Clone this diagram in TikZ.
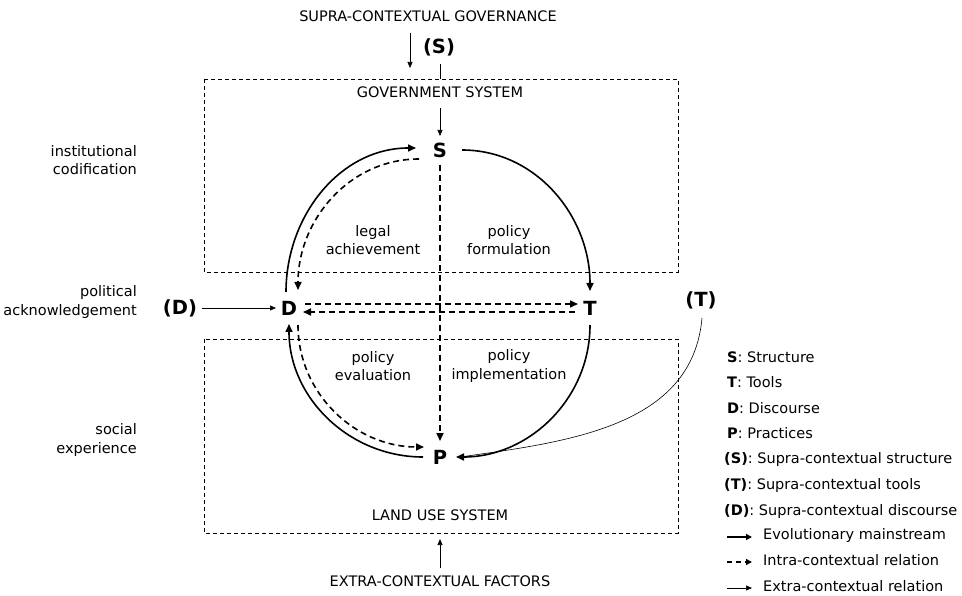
\documentclass[tikz,border=0pt]{standalone}
\usepackage{fontspec}
\setmainfont{DejaVu Sans}
\usetikzlibrary{arrows.meta,calc}
\begin{document}
\begin{tikzpicture}[x=1pt,y=-1pt,
 txt/.style={font=\fontsize{14.5}{18.5}\selectfont, align=center, inner sep=0pt},
 big/.style={font=\fontsize{19.5}{22}\selectfont\bfseries, inner sep=0pt},
 leg/.style={font=\fontsize{14.5}{17}\selectfont, anchor=west, inner sep=0pt},
 boxline/.style={draw, line width=0.9pt, dash pattern=on 4pt off 3pt},
 mainarr/.style={line width=1.6pt, -{Triangle[length=8pt,width=7pt]}},
 dsharr/.style={line width=1.6pt, dash pattern=on 6pt off 4pt, -{Triangle[length=8pt,width=7pt]}},
 thinarr/.style={line width=0.6pt, -{Triangle[length=6pt,width=5pt]}}]
\useasboundingbox (0,0) rectangle (962,596);
% boxes
\draw[boxline] (204,79) rectangle (678,272);
\draw[boxline] (204,339) rectangle (678,533);
% titles
\node[txt] (gov) at (428,16) {SUPRA-CONTEXTUAL GOVERNANCE};
\node[big] (Ssup) at (439,47) {(S)};
\node[txt] (govsys) at (440,92) {GOVERNMENT SYSTEM};
\node[txt] (lus) at (440,515) {LAND USE SYSTEM};
\node[txt] (extra) at (440,581) {EXTRA-CONTEXTUAL FACTORS};
% core nodes
\node[big] (S) at (440,150) {S};
\node[big] (D) at (289,308) {D};
\node[big] (T) at (590,308) {T};
\node[big] (P) at (440,457) {P};
\node[big] (Dsup) at (180,308) {(D)};
\node[big] (Tsup) at (701,300) {(T)};
% left labels
\node[txt, align=right, anchor=east] (l1) at (137,160) {institutional\\codification};
\node[txt, align=right, anchor=east] (l2) at (137,302) {political\\acknowledgement};
\node[txt, align=right, anchor=east] (l3) at (137,440) {social\\experience};
% inner labels
\node[txt] (q1) at (373,240) {legal\\achievement};
\node[txt] (q2) at (509,240) {policy\\formulation};
\node[txt] (q3) at (373,366) {policy\\evaluation};
\node[txt] (q4) at (509,366) {policy\\implementation};
% small arrows top/bottom
\coordinate (gA) at (410,33);
\coordinate (gB) at (410,68);
\draw[thinarr] (gA) -- (gB);
\coordinate (stop) at (440,79);
\draw[line width=0.6pt] ($(Ssup)+(1,17)$) -- (stop);
\coordinate (gs1) at (440,108);
\draw[thinarr] (gs1) -- ($(S)+(0,-14)$);
\coordinate (eA) at (440,568);
\coordinate (eB) at (440,539);
\draw[thinarr] (eA) -- (eB);
% main solid arcs
\draw[mainarr] ($(D)+(-3,-16)$) to[out=90,in=180] ($(S)+(-24,-2)$);
\draw[mainarr] ($(S)+(22,0)$) to[out=0,in=90] ($(T)+(0,-17)$);
\draw[mainarr] ($(T)+(0,17)$) to[out=-90,in=0] ($(P)+(16,0)$);
\draw[mainarr] ($(P)+(-17,0)$) to[out=180,in=-90] ($(D)+(0,16)$);
% dashed
\draw[dsharr] ($(S)+(-21,9)$) to[out=180,in=90] ($(D)+(9,-18)$);
\draw[dsharr] ($(D)+(9,17)$) to[out=-90,in=180] ($(P)+(-16,-10)$);
\draw[dsharr] ($(S)+(0,15)$) -- ($(P)+(0,-16)$);
\draw[dsharr] ($(D)+(16,-4)$) -- ($(T)+(-12,-4)$);
\draw[dsharr] ($(T)+(-15,4)$) -- ($(D)+(14,4)$);
% extra relations
\draw[thinarr] ($(Dsup)+(22,0)$) -- ($(D)+(-13,0)$);
\draw[line width=0.6pt] ($(Tsup)+(1,18)$) to[out=-95,in=8] ($(P)+(20,0)$);
% legend
\node[leg] (k1) at (727,357) {\textbf{S}: Structure};
\node[leg] (k2) at (727,382) {\textbf{T}: Tools};
\node[leg] (k3) at (727,408) {\textbf{D}: Discourse};
\node[leg] (k4) at (727,433) {\textbf{P}: Practices};
\node[leg] (k5) at (724,459) {\textbf{(S)}: Supra-contextual structure};
\node[leg] (k6) at (724,485) {\textbf{(T)}: Supra-contextual tools};
\node[leg] (k7) at (724,511) {\textbf{(D)}: Supra-contextual discourse};
\node[leg] (k8) at (763,535) {Evolutionary mainstream};
\node[leg] (k9) at (763,560) {Intra-contextual relation};
\node[leg] (k10) at (763,586) {Extra-contextual relation};
\coordinate (a1) at (727,537);
\coordinate (a2) at (727,562);
\coordinate (a3) at (727,588);
\draw[line width=1.4pt, -{Triangle[length=6pt,width=6pt]}] (a1) -- ++(25,0);
\draw[line width=1.4pt, dash pattern=on 5pt off 4pt, -{Triangle[length=6pt,width=6pt]}] (a2) -- ++(25,0);
\draw[line width=0.6pt, -{Triangle[length=6pt,width=5pt]}] (a3) -- ++(25,0);
\end{tikzpicture}
\end{document}
